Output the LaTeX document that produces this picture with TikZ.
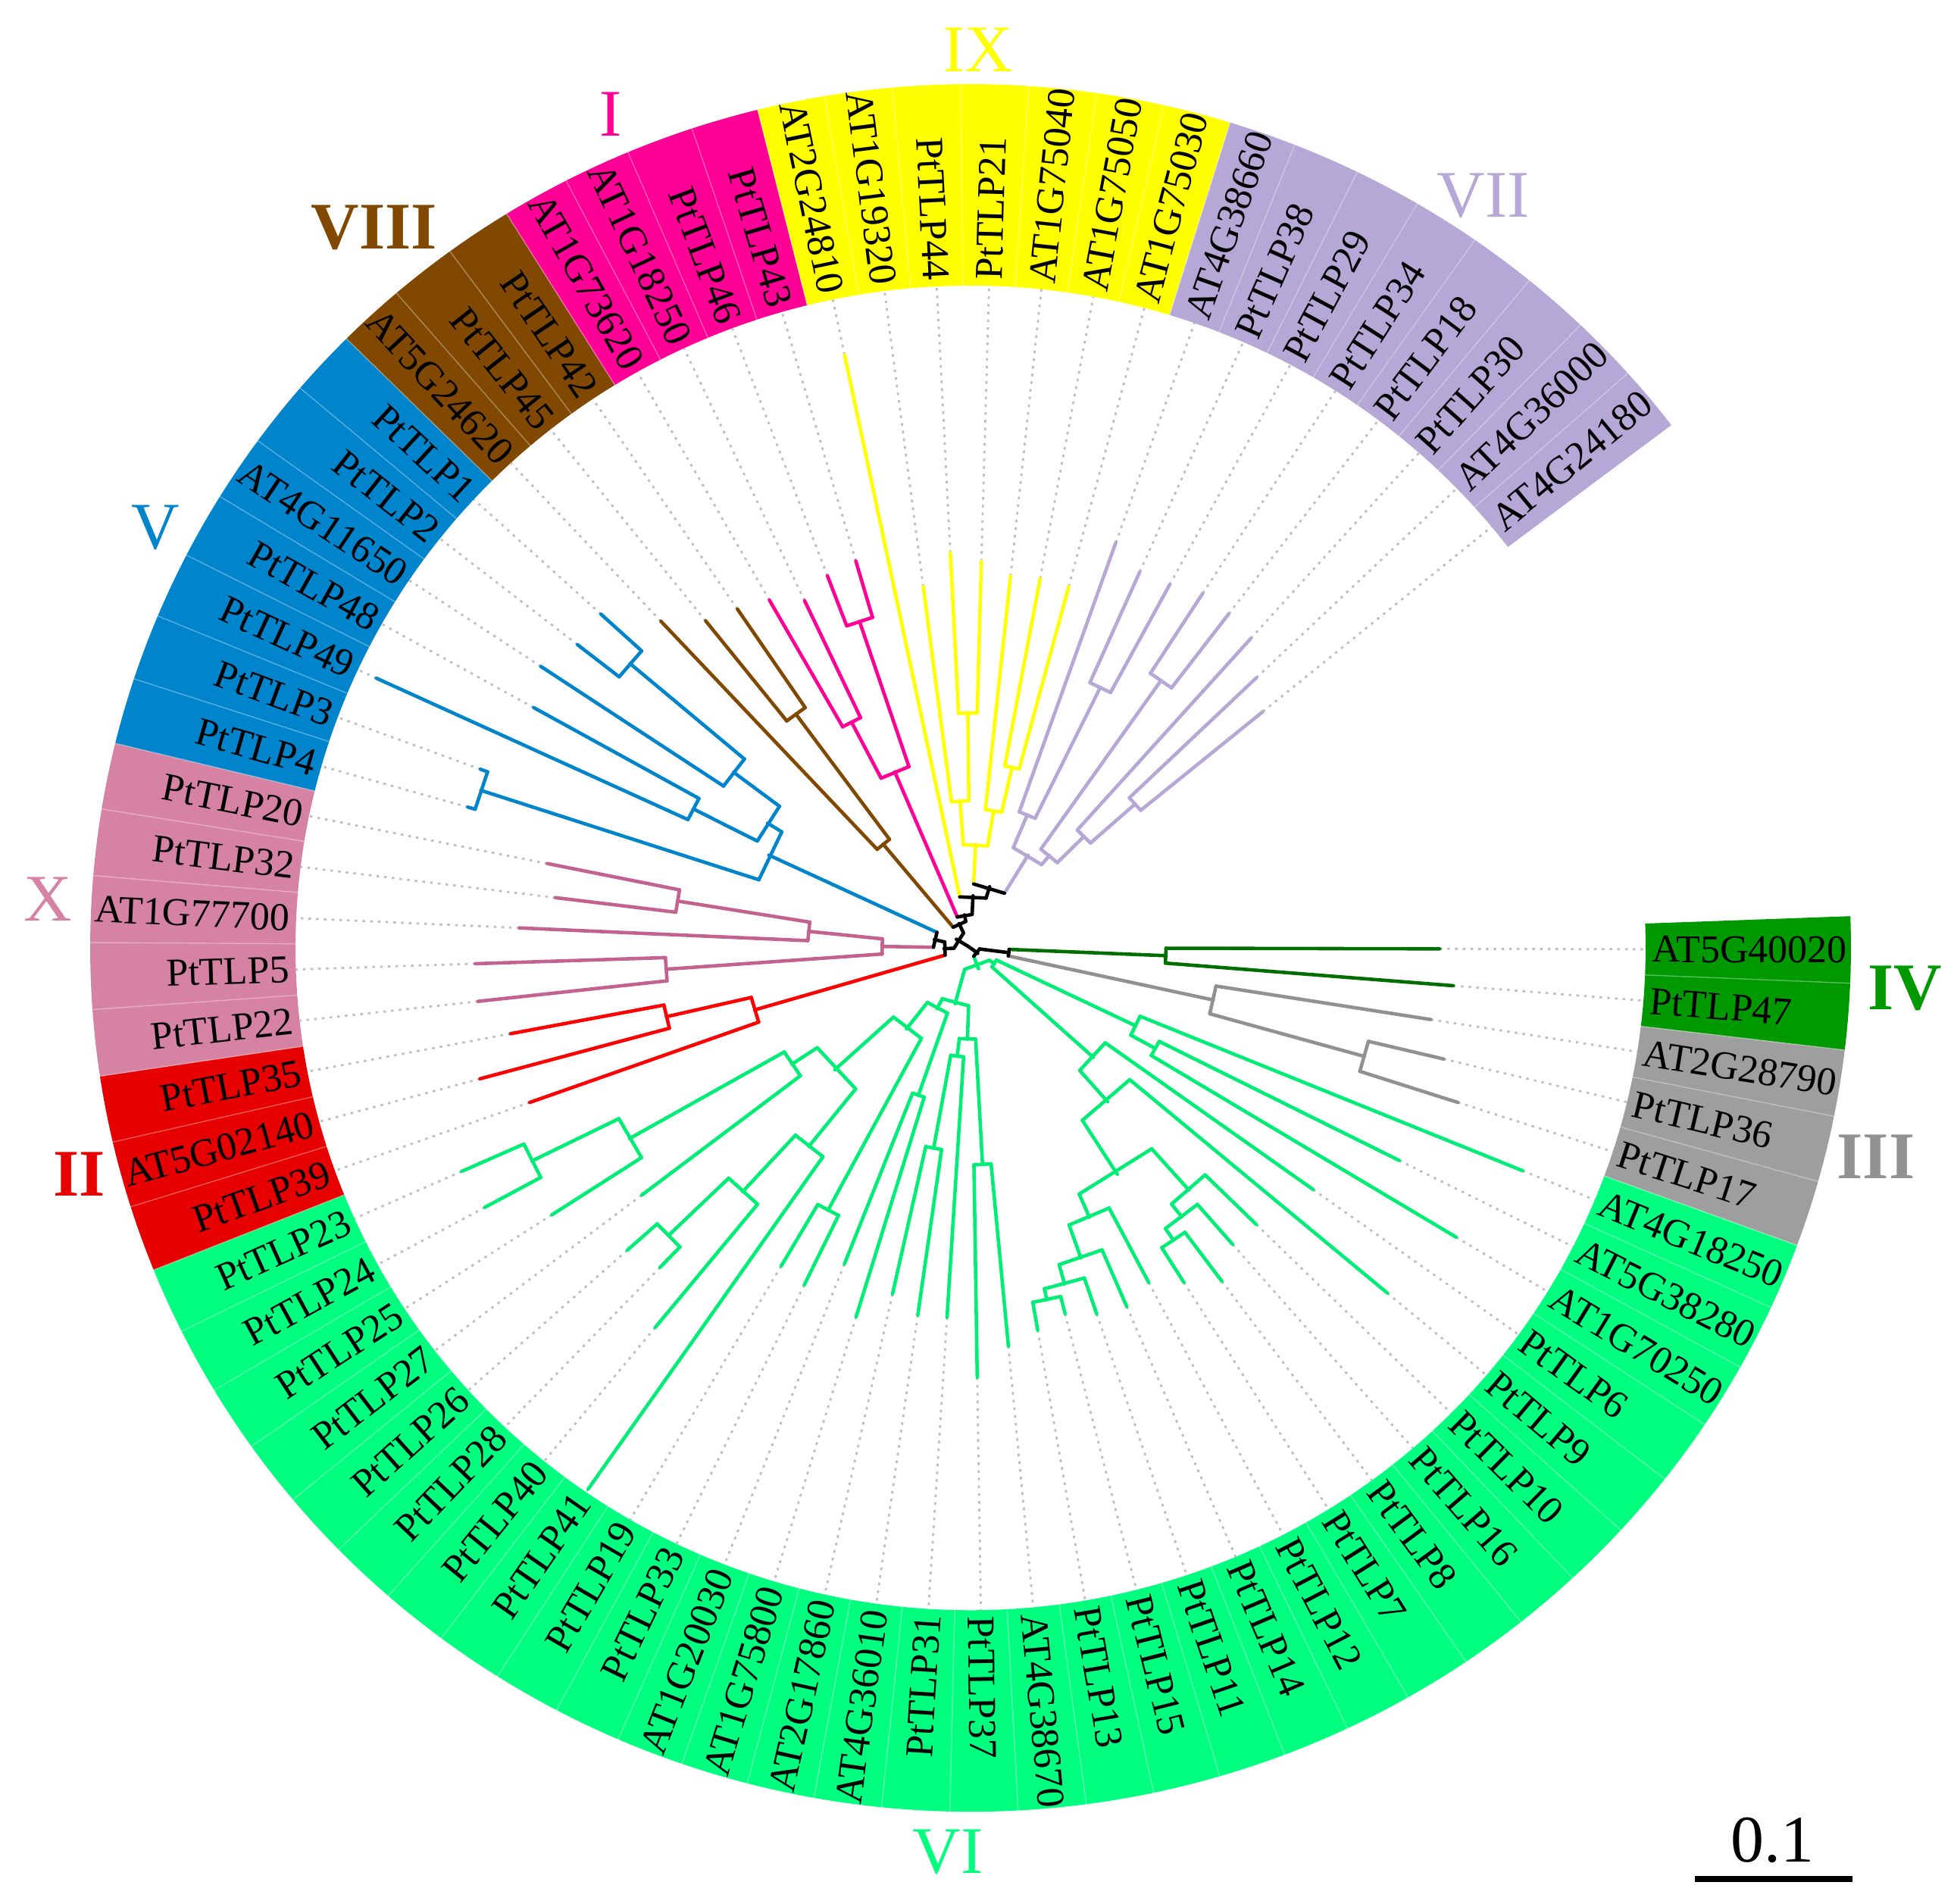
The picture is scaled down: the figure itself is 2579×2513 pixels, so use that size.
\documentclass[tikz,border=0pt]{standalone}
\usepackage{fontspec}
\setmainfont{Liberation Serif}

\definecolor{ivc}{RGB}{0,153,0}
\definecolor{ivl}{RGB}{0,110,0}
\definecolor{iiic}{RGB}{158,158,158}
\definecolor{iiil}{RGB}{145,145,145}
\definecolor{vic}{RGB}{0,255,127}
\definecolor{vil}{RGB}{0,238,118}
\definecolor{iic}{RGB}{230,0,0}
\definecolor{iil}{RGB}{255,0,0}
\definecolor{xc}{RGB}{214,130,163}
\definecolor{xl}{RGB}{196,98,143}
\definecolor{vc}{RGB}{0,132,204}
\definecolor{viiic}{RGB}{128,72,0}
\definecolor{ic}{RGB}{255,0,150}
\definecolor{ixc}{RGB}{255,255,0}
\definecolor{viic}{RGB}{181,167,214}

\newcommand\cladeband[3]{%
  \pgfmathsetmacro\bda{2.1-4.45*#1}%
  \pgfmathsetmacro\bdb{2.1-4.45*(#2+1)}%
  \fill[#3] (\bda:891) arc[start angle=\bda,end angle=\bdb,radius=891]
    -- (\bdb:1162) arc[start angle=\bdb,end angle=\bda,radius=1162] -- cycle;%
}
\newcommand\tleaf[4]{%
  \pgfmathsetmacro\lfang{2.1-4.45*(#2+0.5)}%
  \expandafter\xdef\csname tang@#1\endcsname{\lfang}%
  \expandafter\xdef\csname tcol@#1\endcsname{#4}%
  \coordinate (#1) at (\lfang:#3);%
  \coordinate (#1-r) at (\lfang:891);%
  \draw[leafdot] (#1) -- (#1-r);%
  \pgfmathtruncatemacro\lside{(\lfang<-90)&&(\lfang>-270)}%
  \ifnum\lside=1
    \pgfmathsetmacro\lrot{\lfang+180}%
    \node[leaflabel,anchor=east,rotate=\lrot] (#1-t) at (\lfang:899) {#1};%
  \else
    \node[leaflabel,anchor=west,rotate=\lfang] (#1-t) at (\lfang:899) {#1};%
  \fi
}
\newcommand\tclade[5]{%
  \edef\cda{\csname tang@#4\endcsname}%
  \edef\cdb{\csname tang@#5\endcsname}%
  \edef\cca{\csname tcol@#4\endcsname}%
  \edef\ccb{\csname tcol@#5\endcsname}%
  \pgfmathsetmacro\cdang{(\cda+\cdb)/2}%
  \expandafter\xdef\csname tang@#1\endcsname{\cdang}%
  \expandafter\xdef\csname tcol@#1\endcsname{#3}%
  \coordinate (#1) at (\cdang:#2);%
  \coordinate (#4-b) at (\cda:#2);%
  \coordinate (#5-b) at (\cdb:#2);%
  \draw[branch,draw=\cca] (#4-b) -- (#4);%
  \draw[branch,draw=\ccb] (#5-b) -- (#5);%
  \draw[branch,draw=#3] (#4-b) -- (#5-b);%
}

\begin{document}
\begin{tikzpicture}[x=0.01cm,y=0.01cm,
  branch/.style={line width=1.3pt,line cap=round},
  leafdot/.style={gray!50,line width=0.8pt,dash pattern=on 1pt off 1.9pt},
  bandsep/.style={white,opacity=0.35,line width=0.4pt},
  leaflabel/.style={font=\fontsize{14.8}{16}\selectfont,inner sep=0pt},
  cladelab/.style={font=\fontsize{25}{28}\selectfont,inner sep=0pt},
  cladebold/.style={font=\fontsize{25}{28}\selectfont\bfseries,inner sep=0pt}]
\useasboundingbox (-1281,-1262) rectangle (1298,1251);

\begin{scope}[yscale=0.981]
\foreach \fa/\fb/\cc in {0/1/ivc,2/4/iiic,5/35/vic,36/38/iic,39/43/xc,
  44/50/vc,51/53/viiic,54/57/ic,58/64/ixc,65/72/viic}
  {\cladeband{\fa}{\fb}{\cc}}
\foreach \ii in {1,...,72}
  {\pgfmathsetmacro\bda{2.1-4.45*\ii}\draw[bandsep] (\bda:891) -- (\bda:1162);}

\foreach \nm/\rr/\cc [count=\ii from 0] in {
  AT5G40020/619/ivl, PtTLP47/639/ivl,
  AT2G28790/615/iiil, PtTLP36/642/iiil, PtTLP17/676/iiil,
  AT4G18250/788/vil, AT5G38280/634/vil, AT1G70250/750/vil, PtTLP6/557/vil,
  PtTLP9/720/vil, PtTLP10/530/vil, PtTLP16/528/vil, PtTLP8/558/vil,
  PtTLP7/531/vil, PtTLP12/508/vil, PtTLP14/525/vil, PtTLP11/520/vil,
  PtTLP15/508/vil, PtTLP13/522/vil, AT4G38670/538/vil, PtTLP37/578/vil,
  PtTLP31/498/vil, AT4G36010/499/vil, AT2G17860/477/vil, AT1G75800/519/vil,
  AT1G20030/457/vil, PtTLP33/504/vil, PtTLP19/496/vil, PtTLP41/886/vil,
  PtTLP40/659/vil, PtTLP28/594/vil, PtTLP26/609/vil, PtTLP27/547/vil,
  PtTLP25/659/vil, PtTLP24/730/vil, PtTLP23/736/vil,
  PtTLP39/618/iil, AT5G02140/671/iil, PtTLP35/618/iil,
  PtTLP22/654/xl, PtTLP5/654/xl, AT1G77700/596/xl, PtTLP32/552/xl, PtTLP20/570/xl,
  PtTLP4/690/vc, PtTLP3/690/vc, PtTLP49/864/vc, PtTLP48/661/vc,
  AT4G11650/682/vc, PtTLP2/660/vc, PtTLP1/663/vc,
  AT5G24620/600/viiic, PtTLP45/562/viiic, PtTLP42/550/viiic,
  AT1G73620/538/ic, AT1G18250/516/ic, PtTLP46/535/ic, PtTLP43/542/ic,
  AT2G24810/815/ixc, AT1G19320/490/ixc, PtTLP44/532/ixc, PtTLP21/520/ixc,
  AT1G75040/503/ixc, AT1G75050/505/ixc, AT1G75030/503/ixc,
  AT4G38660/578/viic, PtTLP38/553/viic, PtTLP29/555/viic, PtTLP34/567/viic,
  PtTLP18/564/viic, PtTLP30/557/viic, AT4G36000/524/viic, AT4G24180/500/viic}
  {\tleaf{\nm}{\ii}{\rr}{\cc}}

\tclade{nIV}{258}{ivl}{AT5G40020}{PtTLP47}
\tclade{n3617}{540}{iiil}{PtTLP36}{PtTLP17}
\tclade{nIII}{328}{iiil}{AT2G28790}{n3617}
\tclade{nIVIII}{51}{black}{nIV}{nIII}

\tclade{n3870}{279}{vil}{AT5G38280}{AT1G70250}
\tclade{nRA}{242}{vil}{AT4G18250}{n3870}
\tclade{n87}{476}{vil}{PtTLP8}{PtTLP7}
\tclade{n16}{457}{vil}{PtTLP16}{n87}
\tclade{nL}{435}{vil}{PtTLP10}{n16}
\tclade{n1513}{484}{vil}{PtTLP15}{PtTLP13}
\tclade{n11}{469}{vil}{PtTLP11}{n1513}
\tclade{n14}{442}{vil}{PtTLP14}{n11}
\tclade{nR}{395}{vil}{PtTLP12}{n14}
\tclade{n361}{361}{vil}{nL}{nR}
\tclade{n275}{275}{vil}{PtTLP9}{n361}
\tclade{nRB}{219}{vil}{PtTLP6}{n275}
\tclade{nVIr}{38}{vil}{nRA}{nRB}
\tclade{n3837}{292}{vil}{AT4G38670}{PtTLP37}
\tclade{n1736}{274}{vil}{AT4G36010}{AT2G17860}
\tclade{n31}{147}{vil}{PtTLP31}{n1736}
\tclade{nVId}{123}{vil}{n3837}{n31}
\tclade{n2075}{210}{vil}{AT1G75800}{AT1G20030}
\tclade{n1933}{400}{vil}{PtTLP33}{PtTLP19}
\tclade{n2628}{556}{vil}{PtTLP28}{PtTLP26}
\tclade{n40}{445}{vil}{PtTLP40}{n2628}
\tclade{n41}{342}{vil}{PtTLP41}{n40}
\tclade{n2324}{646}{vil}{PtTLP24}{PtTLP23}
\tclade{n25}{518}{vil}{PtTLP25}{n2324}
\tclade{n27}{283}{vil}{PtTLP27}{n25}
\tclade{nVIa}{243}{vil}{n41}{n27}
\tclade{nVIb}{138}{vil}{n1933}{nVIa}
\tclade{nVIc}{93}{vil}{n2075}{nVIb}
\tclade{nVIe}{78}{vil}{nVId}{nVIc}
\tclade{nVI}{30}{vil}{nVIr}{nVIe}

\tclade{n3502}{412}{iil}{AT5G02140}{PtTLP35}
\tclade{nII}{297}{iil}{PtTLP39}{n3502}

\tclade{n522}{403}{xl}{PtTLP22}{PtTLP5}
\tclade{n2032}{392}{xl}{PtTLP32}{PtTLP20}
\tclade{nXa}{215}{xl}{AT1G77700}{n2032}
\tclade{nX}{117}{xl}{n522}{nXa}

\tclade{n34}{680}{vc}{PtTLP4}{PtTLP3}
\tclade{n4849}{411}{vc}{PtTLP49}{PtTLP48}
\tclade{n12}{590}{vc}{PtTLP2}{PtTLP1}
\tclade{nAT12}{392}{vc}{AT4G11650}{n12}
\tclade{nV3}{316}{vc}{n4849}{nAT12}
\tclade{nV}{294}{vc}{n34}{nV3}

\tclade{n4542}{390}{viiic}{PtTLP45}{PtTLP42}
\tclade{nVIII}{181}{viiic}{AT5G24620}{n4542}

\tclade{n7318}{342}{ic}{AT1G73620}{AT1G18250}
\tclade{n4643}{463}{ic}{PtTLP46}{PtTLP43}
\tclade{nI}{257}{ic}{n7318}{n4643}

\tclade{n4421}{316}{ixc}{PtTLP44}{PtTLP21}
\tclade{nIXa}{198}{ixc}{AT1G19320}{n4421}
\tclade{n5030}{249}{ixc}{AT1G75050}{AT1G75030}
\tclade{nIXc}{187}{ixc}{AT1G75040}{n5030}
\tclade{nIXb}{139}{ixc}{nIXa}{nIXc}

\tclade{n3829}{390}{viic}{PtTLP38}{PtTLP29}
\tclade{nVIIa}{194}{viic}{AT4G38660}{n3829}
\tclade{n3418}{439}{viic}{PtTLP34}{PtTLP18}
\tclade{n3624}{291}{viic}{AT4G36000}{AT4G24180}
\tclade{n30}{212}{viic}{PtTLP30}{n3624}
\tclade{nVIIb}{162}{viic}{n3418}{n30}
\tclade{nVII}{146}{viic}{nVIIa}{nVIIb}

\tclade{nT4}{86}{black}{nIXb}{nVII}
\tclade{nT3}{70}{black}{AT2G24810}{nT4}
\tclade{nT2}{45}{black}{nI}{nT3}
\tclade{nTop}{36}{black}{nVIII}{nT2}
\tclade{nVX}{49}{black}{nX}{nV}
\tclade{nIIVX}{35}{black}{nII}{nVX}
\tclade{nLeft}{22}{black}{nIIVX}{nTop}
\tclade{nRight}{12}{black}{nIVIII}{nVI}
\tclade{root}{5}{black}{nRight}{nLeft}
\end{scope}

\node[cladelab,text=ixc] (labIX) at (10,1185) {IX};
\node[cladelab,text=ic] (labI) at (-475,1100) {I};
\node[cladebold,text=viiic] (labVIII) at (-787,951) {VIII};
\node[cladelab,text=viic] (labVII) at (677,993) {VII};
\node[cladelab,text=vc] (labV) at (-1076,555) {V};
\node[cladelab,text=xc] (labX) at (-1218,64) {X};
\node[cladebold,text=iic] (labII) at (-1176,-299) {II};
\node[cladelab,text=vic] (labVI) at (-30,-1193) {VI};
\node[cladebold,text=iiil] (labIII) at (1195,-276) {III};
\node[cladebold,text=ivc] (labIV) at (1233,-53) {IV};

\coordinate (sbA) at (956,-1229);
\coordinate (sbB) at (1164,-1229);
\draw[line width=2pt] (sbA) -- (sbB);
\node[cladelab,anchor=south] (sbT) at (1058,-1208) {0.1};
\end{tikzpicture}
\end{document}
